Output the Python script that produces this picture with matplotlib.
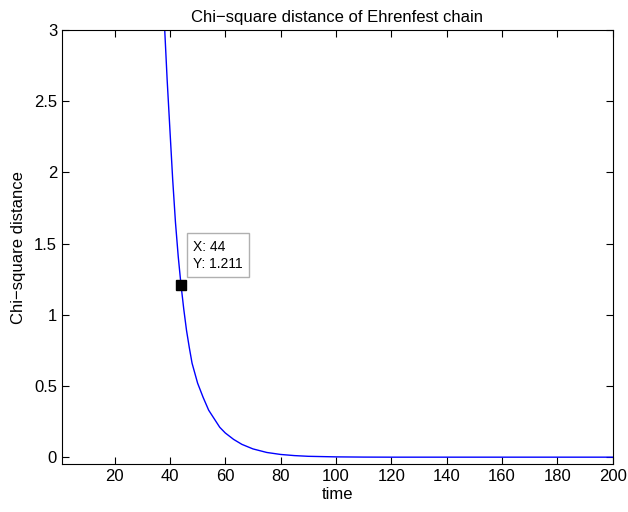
import numpy as np
import matplotlib.pyplot as plt

plt.rcParams['font.family'] = ['Liberation Sans', 'DejaVu Sans']

# chi-square distance sampled along the run
time = [36, 38, 39, 40, 41, 42, 43, 44, 45, 46, 47, 48, 49, 50, 52, 54, 56, 58, 60,
        63, 66, 70, 75, 80, 85, 90, 100, 110, 120, 200]
chi2 = [4.1, 3.05, 2.65, 2.3, 1.95, 1.65, 1.41, 1.211, 1.04, 0.89, 0.77, 0.66, 0.59, 0.52,
        0.42, 0.33, 0.27, 0.21, 0.17, 0.125, 0.09, 0.058, 0.033, 0.019, 0.011, 0.006,
        0.002, 0.0005, 0.0, 0.0]

tip_x, tip_y = 44, 1.211

fig = plt.figure(figsize=(6.28, 5.12), dpi=100)
ax = fig.add_axes([0.0987, 0.0932, 0.877, 0.848])

ax.plot(time, chi2, color=(0, 0, 1), linewidth=1.0)

# data cursor
ax.plot([tip_x], [tip_y], marker='s', markersize=7, color='black', linestyle='none')
ax.annotate(f"X: {tip_x}\nY: {tip_y}", xy=(tip_x, tip_y), xytext=(9, 10),
            textcoords='offset points', ha='left', va='bottom', fontsize=10,
            linespacing=1.3,
            bbox=dict(boxstyle='square,pad=0.45', fc='white', ec='#b0b0b0', lw=1))

ax.set_xlim(1, 200)
ax.set_ylim(-0.05, 3)
ax.set_xticks(np.arange(20, 201, 20))
ax.set_yticks([0, 0.5, 1, 1.5, 2, 2.5, 3])
ax.set_yticklabels(['0', '0.5', '1', '1.5', '2', '2.5', '3'])
ax.tick_params(direction='in', top=True, right=True, length=5, labelsize=12, width=0.8)
for s in ax.spines.values():
    s.set_linewidth(0.8)

ax.set_xlabel('time', fontsize=12, labelpad=2)
ax.set_ylabel('Chi\u2212square distance', fontsize=12, labelpad=6)
ax.set_title('Chi\u2212square distance of Ehrenfest chain', fontsize=12, pad=6)

fig.savefig('out.png', dpi=100)
